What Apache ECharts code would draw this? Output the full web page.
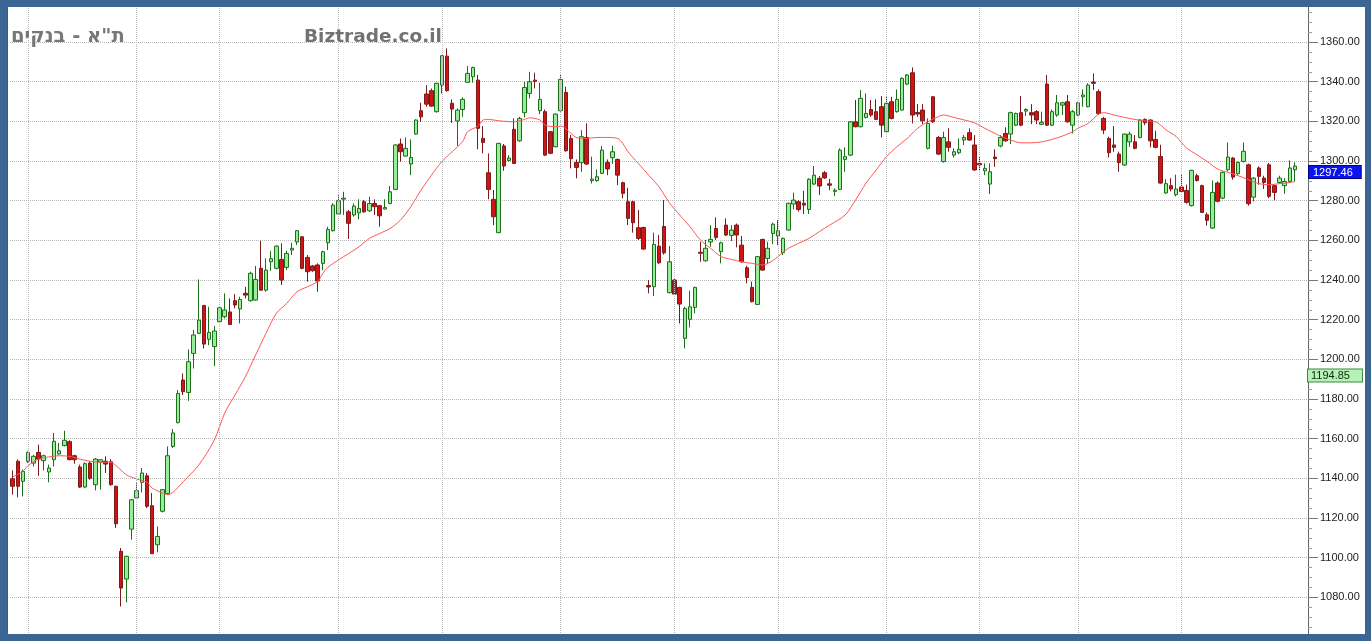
<!DOCTYPE html>
<html>
<head>
<meta charset="utf-8">
<script src="https://cdn.jsdelivr.net/npm/echarts@6/dist/echarts.min.js"></script>
<style>
html,body{margin:0;padding:0;background:#fff;}
#chart{width:1371px;height:641px;}
</style>
</head>
<body>
<div id="chart"></div>
<script>
// ---- DATA ----
const opens = [
1139.8,1148.6,1138.5,1148.6,1147.7,1153.1,1148.9,1143.2,1149.4,1152.3,
1156.5,1158.5,1151.4,1145.7,1135.6,1147.7,1136.8,1148.2,1148.6,1148.4,
1136.0,1103.2,1089.2,1114.4,1130.1,1138.0,1141.3,1126.2,1106.5,1123.4,
1132.3,1156.1,1168.1,1189.6,1183.3,1203.0,1213.1,1227.2,1210.1,1206.4,
1219.0,1221.5,1223.9,1229.6,1225.4,1233.3,1229.6,1229.9,1245.9,1234.9,
1249.2,1245.9,1250.4,1246.4,1255.1,1259.2,1261.8,1251.4,1247.1,1247.6,
1248.4,1258.8,1264.9,1273.3,1280.8,1274.4,1272.8,1273.9,1279.5,1274.9,
1278.6,1277.5,1275.8,1278.6,1285.7,1308.6,1302.5,1298.5,1313.6,1325.4,
1333.8,1335.5,1324.9,1338.3,1352.9,1329.1,1320.2,1326.0,1339.7,1342.5,
1340.8,1311.4,1294.1,1280.7,1263.9,1307.6,1300.3,1316.0,1310.2,1324.4,
1334.1,1340.8,1325.4,1324.9,1314.8,1307.2,1325.4,1334.6,1311.4,1299.3,
1299.2,1311.9,1290.1,1290.1,1293.8,1299.3,1301.7,1300.8,1289.1,1279.5,
1279.5,1266.4,1266.5,1237.2,1236.6,1257.1,1267.0,1233.6,1240.0,1236.3,
1210.6,1220.2,1226.2,1254.0,1249.7,1259.2,1266.0,1254.3,1267.7,1262.5,
1267.7,1257.6,1246.2,1236.3,1227.7,1260.5,1250.9,1263.5,1262.2,1253.8,
1265.2,1278.3,1279.5,1278.7,1275.6,1288.4,1291.3,1294.1,1288.5,1284.7,
1285.7,1300.8,1303.0,1319.8,1317.3,1322.0,1326.0,1324.9,1327.4,1314.8,
1329.9,1324.9,1325.7,1338.8,1344.5,1324.5,1325.7,1306.4,1332.4,1311.9,
1299.7,1309.7,1303.0,1304.2,1310.6,1314.3,1308.1,1298.8,1295.1,1288.4,
1302.0,1307.6,1313.9,1313.6,1318.1,1324.4,1325.2,1324.4,1324.9,1318.5,
1338.8,1318.1,1323.2,1328.2,1329.9,1318.1,1323.2,1332.4,1327.4,1339.8,
1335.0,1321.5,1311.4,1308.1,1303.5,1298.0,1309.7,1309.7,1311.9,1321.0,
1320.7,1310.9,1302.3,1283.9,1287.6,1283.0,1286.9,1285.2,1277.5,1292.6,
1287.6,1272.9,1266.2,1288.9,1281.3,1295.6,1301.5,1293.6,1299.8,1298.1,
1281.8,1296.5,1291.4,1298.1,1287.6,1289.2,1287.6,1289.7,1295.6
];
const closes = [
1136.0,1136.0,1143.5,1153.1,1151.1,1149.7,1151.4,1145.2,1158.7,1153.9,
1159.2,1149.4,1149.4,1135.6,1147.4,1140.0,1149.7,1149.4,1147.2,1136.8,
1117.1,1084.7,1100.7,1129.2,1133.8,1142.7,1125.9,1102.0,1110.7,1134.3,
1151.4,1162.9,1182.8,1183.7,1198.8,1212.3,1219.8,1207.7,1213.6,1214.3,
1226.0,1224.9,1217.6,1227.4,1230.2,1232.4,1243.4,1240.3,1234.9,1245.0,
1250.8,1257.1,1240.0,1253.4,1256.0,1264.9,1245.9,1244.2,1244.7,1239.5,
1254.3,1265.5,1277.8,1280.0,1281.3,1268.6,1277.3,1276.1,1274.4,1278.6,
1277.0,1272.4,1276.6,1284.5,1308.1,1304.7,1306.4,1301.8,1320.7,1322.3,
1328.7,1327.7,1339.2,1353.1,1335.5,1326.2,1325.7,1331.1,1344.2,1347.2,
1316.5,1309.4,1285.7,1271.9,1308.9,1297.5,1301.5,1298.8,1321.5,1337.1,
1340.0,1340.2,1331.1,1303.0,1303.9,1323.7,1341.2,1305.2,1301.2,1296.8,
1312.3,1298.5,1290.9,1292.1,1305.5,1296.0,1304.7,1292.9,1283.7,1271.1,
1268.9,1261.0,1255.6,1236.5,1258.0,1248.7,1253.7,1249.2,1232.9,1227.9,
1225.7,1226.5,1236.3,1253.5,1256.0,1260.5,1261.5,1258.8,1262.7,1265.2,
1262.7,1249.2,1241.3,1229.1,1251.8,1245.0,1256.0,1268.2,1264.9,1261.0,
1278.7,1280.3,1275.6,1277.8,1290.8,1292.9,1287.4,1291.5,1287.8,1285.3,
1305.5,1302.2,1319.8,1317.3,1331.6,1324.0,1323.2,1321.0,1318.1,1329.1,
1321.5,1331.1,1341.7,1343.4,1323.2,1323.7,1320.3,1319.0,1319.8,1303.5,
1311.9,1306.9,1304.7,1305.9,1311.9,1310.6,1295.5,1298.1,1296.3,1294.6,
1301.2,1311.9,1310.2,1324.4,1324.0,1318.1,1326.0,1323.2,1320.7,1319.5,
1318.1,1324.9,1329.4,1329.4,1319.8,1324.9,1329.4,1333.3,1338.3,1339.2,
1324.0,1315.6,1304.2,1306.9,1299.2,1313.6,1313.6,1306.4,1320.7,1319.3,
1310.2,1306.9,1288.9,1288.6,1285.9,1285.9,1284.7,1279.2,1295.3,1290.2,
1274.1,1270.1,1284.2,1279.7,1294.3,1302.0,1291.9,1299.3,1304.9,1278.5,
1291.4,1292.3,1289.2,1282.2,1284.2,1291.4,1289.7,1296.5,1297.46
];
const lows = [
1131.8,1130.4,1130.9,1147.7,1146.0,1141.3,1144.0,1138.0,1146.0,1151.9,
1156.1,1149.1,1147.4,1135.1,1135.0,1139.3,1133.9,1134.3,1142.7,1136.3,
1115.0,1075.4,1077.5,1109.1,1129.6,1132.9,1125.0,1102.0,1102.7,1122.8,
1131.8,1155.3,1167.7,1182.0,1179.1,1195.4,1212.8,1205.5,1207.2,1196.6,
1218.5,1220.7,1217.3,1225.7,1218.1,1230.7,1229.1,1229.6,1234.6,1234.1,
1244.7,1245.4,1237.5,1245.0,1252.6,1257.6,1245.4,1239.2,1244.2,1234.1,
1245.0,1255.1,1264.4,1272.8,1272.8,1260.7,1271.9,1270.6,1273.9,1274.4,
1272.8,1266.9,1275.6,1278.3,1285.4,1299.7,1302.2,1292.9,1313.3,1319.8,
1327.4,1327.4,1324.4,1334.1,1335.0,1319.3,1307.6,1322.3,1339.5,1339.5,
1305.9,1303.9,1280.7,1267.7,1263.6,1295.1,1299.7,1298.5,1309.7,1322.0,
1331.6,1336.6,1323.7,1302.5,1303.5,1306.9,1324.9,1304.7,1296.3,1291.3,
1294.6,1298.0,1288.7,1289.6,1293.4,1292.9,1298.5,1287.9,1281.2,1267.7,
1263.9,1260.2,1255.4,1233.3,1231.9,1248.0,1252.8,1233.3,1232.4,1218.1,
1205.5,1216.1,1223.2,1249.2,1249.2,1256.8,1260.2,1248.4,1262.2,1259.7,
1256.5,1248.7,1238.3,1228.7,1227.4,1244.7,1248.1,1258.1,1257.6,1252.6,
1264.9,1275.6,1274.5,1273.3,1273.3,1287.9,1282.9,1291.0,1285.3,1282.3,
1285.4,1294.6,1302.5,1317.0,1317.0,1321.5,1322.3,1320.7,1311.9,1314.3,
1321.0,1324.4,1325.4,1338.3,1319.0,1322.3,1318.6,1305.9,1319.3,1303.0,
1299.2,1304.7,1301.8,1303.5,1308.1,1310.2,1295.1,1295.5,1292.9,1283.4,
1297.1,1306.9,1309.7,1308.6,1317.6,1317.6,1322.7,1318.6,1318.6,1318.1,
1317.6,1317.6,1322.3,1323.2,1319.3,1313.9,1322.7,1327.4,1327.1,1335.8,
1323.2,1313.6,1301.8,1304.7,1294.6,1297.5,1307.2,1305.9,1311.4,1318.1,
1306.9,1306.4,1288.6,1283.5,1284.7,1282.2,1284.2,1278.5,1277.1,1289.7,
1273.8,1267.4,1265.7,1279.2,1280.8,1294.8,1290.6,1293.1,1299.3,1277.5,
1279.7,1288.1,1285.9,1281.3,1280.2,1288.6,1283.5,1289.2,1289.7
];
const highs = [
1144.0,1149.5,1144.4,1153.6,1151.9,1157.0,1151.9,1146.9,1162.9,1157.8,
1164.0,1159.2,1151.9,1146.9,1148.1,1148.6,1150.3,1149.7,1151.1,1149.7,
1136.3,1104.9,1101.0,1129.6,1137.6,1145.2,1142.7,1132.6,1115.8,1134.6,
1156.1,1164.9,1184.5,1192.9,1205.0,1214.8,1240.3,1227.4,1226.5,1216.8,
1226.9,1233.3,1230.7,1232.9,1231.6,1236.6,1244.2,1247.1,1259.8,1250.9,
1254.6,1257.5,1258.5,1254.8,1258.8,1265.2,1262.2,1252.6,1247.6,1248.4,
1254.8,1266.9,1278.7,1283.4,1284.5,1275.3,1278.6,1280.7,1280.3,1282.0,
1280.7,1277.8,1280.7,1287.4,1308.6,1311.4,1311.9,1310.9,1321.0,1329.4,
1338.3,1336.6,1339.5,1353.4,1356.8,1331.1,1326.6,1332.1,1347.9,1347.6,
1343.4,1317.6,1303.9,1285.4,1309.2,1308.6,1303.0,1321.5,1322.3,1340.0,
1345.0,1344.5,1339.5,1326.0,1315.1,1324.0,1343.9,1337.5,1313.1,1300.8,
1315.6,1319.0,1302.2,1295.8,1307.6,1300.8,1307.7,1301.3,1289.6,1286.5,
1280.0,1275.3,1266.9,1240.0,1263.9,1262.7,1280.3,1257.1,1240.8,1236.6,
1226.5,1234.6,1236.6,1259.3,1260.2,1267.7,1271.6,1259.3,1271.1,1267.7,
1268.5,1262.2,1247.1,1239.2,1252.1,1260.8,1259.3,1268.9,1270.2,1261.5,
1279.0,1284.0,1280.3,1285.0,1291.3,1297.5,1292.4,1295.0,1291.0,1286.2,
1306.4,1306.9,1320.2,1330.8,1335.8,1334.1,1330.8,1331.1,1332.8,1332.8,
1332.4,1336.1,1342.2,1343.9,1347.2,1328.7,1328.7,1321.5,1332.8,1312.6,
1314.8,1316.5,1306.4,1311.4,1313.1,1316.5,1313.1,1302.5,1298.8,1298.8,
1305.9,1313.1,1317.0,1324.9,1324.4,1332.8,1326.6,1328.7,1325.7,1324.9,
1343.4,1326.0,1333.3,1329.9,1333.3,1325.7,1329.9,1336.1,1339.2,1344.2,
1336.1,1322.3,1312.3,1317.6,1304.7,1313.9,1314.8,1313.1,1321.0,1321.5,
1321.0,1315.3,1308.2,1290.9,1291.4,1293.1,1293.1,1288.1,1295.6,1293.6,
1288.1,1274.1,1290.2,1289.7,1294.8,1309.4,1302.0,1299.8,1309.4,1298.7,
1291.9,1297.3,1292.6,1299.0,1288.1,1292.6,1291.4,1300.3,1299.3
];
// moving average line, read at these candle positions: [candle index, value]
const maPoints = [
[0,1140.7],[2,1143.5],[3,1146.5],[5,1149.7],[7,1150.8],[9,1151.4],[11,1151.1],[13,1149.7],
[15,1148.6],[17,1148.1],[19,1148.1],[20,1146.4],[22,1141.8],[24,1139.7],[26,1138.0],[27,1135.1],
[29,1132.6],[30,1131.8],[31,1132.9],[33,1138.3],[36,1146.7],[39,1159.3],[41,1172.8],[43,1182.0],
[45,1191.2],[47,1202.2],[49,1213.1],[51,1223.2],[53,1228.2],[55,1234.1],[57,1236.6],[59,1239.2],
[60,1243.4],[61,1246.5],[63,1250.1],[65,1253.4],[67,1256.8],[69,1261.0],[71,1263.5],[73,1266.0],
[75,1270.2],[77,1277.0],[79,1285.4],[81,1292.9],[83,1299.7],[85,1304.7],[87,1309.7],[88,1314.8],
[90,1317.6],[91,1320.7],[92,1321.0],[94,1320.3],[97,1319.8],[99,1321.0],[100,1321.8],[102,1320.7],
[103,1318.1],[105,1317.3],[106,1317.6],[108,1313.9],[109,1311.9],[111,1311.4],[113,1311.9],[115,1311.9],
[117,1311.4],[118,1308.9],[119,1304.7],[121,1298.8],[123,1292.9],[125,1287.0],[127,1279.0],[129,1272.8],
[131,1266.9],[133,1260.2],[135,1256.0],[137,1251.8],[139,1250.4],[141,1249.2],[143,1248.4],[145,1247.6],
[147,1249.8],[149,1254.0],[150,1256.0],[152,1258.5],[154,1261.0],[156,1264.4],[158,1267.7],[161,1272.8],
[163,1280.3],[165,1288.7],[167,1295.5],[169,1302.2],[171,1307.2],[173,1311.4],[175,1316.5],[177,1319.8],
[179,1322.4],[180,1323.2],[182,1322.0],[184,1320.7],[186,1319.3],[188,1316.5],[190,1313.9],[191,1312.6],
[193,1310.6],[195,1309.2],[197,1309.2],[199,1309.7],[201,1310.9],[203,1312.6],[205,1314.8],[206,1316.5],
[208,1319.0],[210,1323.7],[211,1324.4],[213,1323.2],[215,1322.0],[217,1321.0],[219,1320.3],[221,1319.8],
[222,1318.1],[223,1315.8],[225,1312.4],[226,1309.4],[227,1306.6],[229,1303.2],[231,1299.8],[233,1296.0],
[235,1294.3],[237,1292.6],[239,1290.6],[241,1288.6],[243,1288.1],[245,1288.6],[247,1289.2],[248,1289.7]
];
// candle indices where a new month starts (vertical grid lines)
const monthStarts = [3, 24, 40, 63, 83, 106, 128, 148, 169, 187, 206, 226];
const lastPrice = 1297.46;
const refLevel = 1194.85;
const yMin = 1060, yMax = 1380, yStep = 20;
const titleText = 'ת"א - בנקים';
const brandText = 'Biztrade.co.il';

// ---- CHART ----
const categories = opens.map((_, i) => String(i + 1)).concat(['', '']);
const candles = opens.map((o, i) => [o, closes[i], lows[i], highs[i]]);
const frame = '#3b6593';
const axisFont = '"Liberation Sans", Arial, sans-serif';

const chart = echarts.init(document.getElementById('chart'), null, {renderer: 'canvas'});
chart.setOption({
  animation: false,
  backgroundColor: '#ffffff',
  grid: {left: 10, right: 63, top: 2.4, bottom: 4, containLabel: false},
  xAxis: {
    type: 'category', data: categories, boundaryGap: true,
    axisLine: {show: false}, axisTick: {show: false}, axisLabel: {show: false},
    splitLine: {show: false}
  },
  yAxis: {
    type: 'value', position: 'right', min: yMin, max: yMax, interval: yStep,
    axisLine: {show: true, lineStyle: {color: '#666', width: 1}},
    axisTick: {show: true, length: 10, lineStyle: {color: '#777'}},
    minorTick: {show: true, splitNumber: 4, length: 4, lineStyle: {color: '#999'}},
    axisLabel: {
      margin: 12, fontSize: 11, color: '#222', fontFamily: axisFont,
      showMinLabel: false, showMaxLabel: false,
      formatter: v => v.toFixed(2)
    },
    splitLine: {show: true, lineStyle: {color: '#b8b8b8', type: 'dotted', width: 1}}
  },
  series: [
    {
      type: 'line', name: 'months', data: [], z: 1, silent: true,
      markLine: {
        silent: true, symbol: ['none', 'none'], label: {show: false},
        lineStyle: {color: '#b8b8b8', type: 'dotted', width: 1},
        data: monthStarts.map(i => ({xAxis: i}))
      }
    },
    {
      type: 'candlestick', name: 'price', data: candles, z: 2,
      barWidth: 4,
      itemStyle: {
        color: '#96ee96', color0: '#d01414',
        borderColor: '#1b6f1b', borderColor0: '#7a1a1a', borderWidth: 1
      }
    },
    {
      type: 'line', name: 'MA', data: maPoints, z: 3, smooth: 0.3,
      symbol: 'none', silent: true,
      lineStyle: {color: '#ff5555', width: 1}
    },
    {
      type: 'line', name: 'levels', data: [], z: 5, silent: true,
      markLine: {
        silent: true, symbol: ['none', 'none'],
        lineStyle: {color: 'rgba(255,255,255,0)', width: 1, type: 'solid'},
        data: [
          {yAxis: lastPrice, label: {show: true, position: 'end', distance: 1, opacity: 1,
            verticalAlign: 'top',
            formatter: p => Number(p.value).toFixed(2),
            backgroundColor: '#0a14f0', color: '#ffffff', fontSize: 11,
            fontFamily: axisFont,
            padding: [1, 8, 0, 4], borderColor: '#000080', borderWidth: 1}},
          {yAxis: refLevel, label: {show: true, position: 'end', distance: 0, opacity: 1,
            verticalAlign: 'top',
            formatter: p => Number(p.value).toFixed(2),
            backgroundColor: '#b6f2b6', color: '#0d2a0d', fontSize: 11,
            fontFamily: axisFont,
            padding: [1, 12, 0, 3], borderColor: '#3a8a3a', borderWidth: 1}}
        ]
      }
    }
  ],
  graphic: [
    {type: 'text', z: 50, style: {x: 11, y: 37, text: titleText,
      font: 'bold 19.5px "DejaVu Sans"', fill: '#787878', textVerticalAlign: 'middle', verticalAlign: 'middle'}},
    {type: 'text', z: 50, style: {x: 304, y: 37, text: brandText,
      font: 'bold 18.5px "DejaVu Sans"', fill: '#727272', textVerticalAlign: 'middle', verticalAlign: 'middle'}},
    {type: 'rect', z: 100, silent: true, shape: {x: 0, y: 0, width: 1371, height: 7}, style: {fill: frame}},
    {type: 'rect', z: 100, silent: true, shape: {x: 0, y: 634, width: 1371, height: 7}, style: {fill: frame}},
    {type: 'rect', z: 100, silent: true, shape: {x: 0, y: 0, width: 7, height: 641}, style: {fill: frame}},
    {type: 'rect', z: 100, silent: true, shape: {x: 1365, y: 0, width: 6, height: 641}, style: {fill: frame}},
    {type: 'rect', z: 100, silent: true, shape: {x: 7, y: 7, width: 1, height: 627}, style: {fill: '#555'}}
  ]
});
</script>
</body>
</html>
